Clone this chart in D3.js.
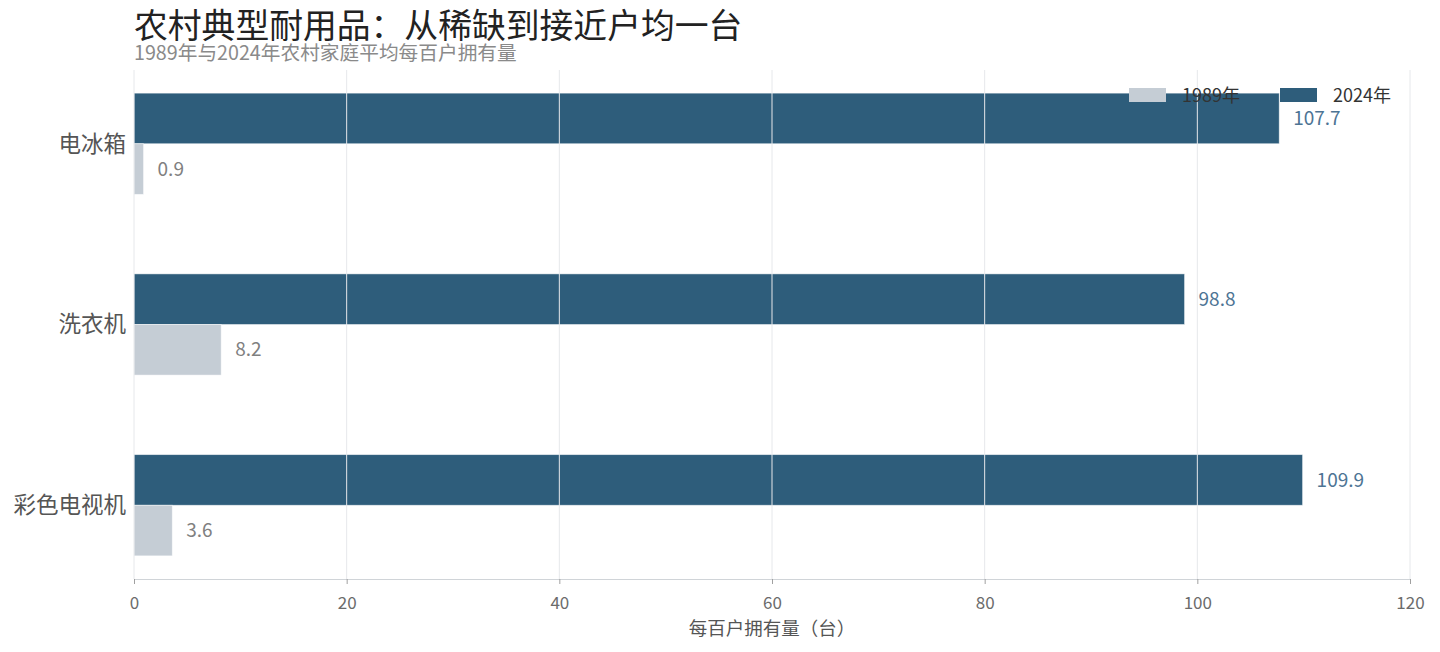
<!DOCTYPE html>
<html>
<head>
<meta charset="utf-8">
<script src="https://cdn.jsdelivr.net/npm/d3@7"></script>
<style>
  body { margin: 0; background: #fff; }
  text { font-family: "Noto Sans CJK SC", "Noto Sans", sans-serif; }
</style>
</head>
<body>
<div class="canvas"></div>
<script>
// data
const categories = ['彩色电视机', '洗衣机', '电冰箱'];
const values1989 = [3.6, 8.2, 0.9];
const values2024 = [109.9, 98.8, 107.7];
const seriesNames = ['1989年', '2024年'];
const xTicks = [0, 20, 40, 60, 80, 100, 120];

const colors = { '1989年': '#c5cdd5', '2024年': '#2e5d7b' };
const labelColors = { '1989年': '#808080', '2024年': '#4d7494' };

const width = 1440, height = 652;
const margin = { top: 70, right: 30, bottom: 73, left: 134 };

const svg = d3.select('.canvas')
    .append('svg')
    .attr('width', width)
    .attr('height', height);

const xScale = d3.scaleLinear()
    .domain([0, 120])
    .range([margin.left, width - margin.right]);

// category index -> vertical position (index 0 at the bottom)
const barH = 0.28;
const yScale = d3.scaleLinear()
    .domain([-0.408, 2.408])
    .range([height - margin.bottom, margin.top]);

const rows = categories.map((c, i) => ({ name: c, i, v1989: values1989[i], v2024: values2024[i] }));

// bars: 2024 above the category line, 1989 below
const bars = [];
rows.forEach(r => {
    bars.push({ series: '2024年', i: r.i, v: r.v2024, y0: r.i + barH, y1: r.i });
    bars.push({ series: '1989年', i: r.i, v: r.v1989, y0: r.i, y1: r.i - barH });
});

svg.append('g')
    .selectAll('rect')
    .data(bars)
    .enter()
    .append('rect')
    .attr('x', xScale(0))
    .attr('y', d => yScale(d.y0))
    .attr('width', d => xScale(d.v) - xScale(0))
    .attr('height', d => yScale(d.y1) - yScale(d.y0))
    .attr('fill', d => colors[d.series])
    .attr('stroke', '#ffffff')
    .attr('stroke-opacity', 0.6)
    .attr('stroke-width', 0.8);

// grid over the bars
svg.append('g')
    .selectAll('line')
    .data(xTicks)
    .enter()
    .append('line')
    .attr('x1', d => xScale(d))
    .attr('x2', d => xScale(d))
    .attr('y1', margin.top)
    .attr('y2', height - margin.bottom)
    .attr('stroke', '#e6e8eb')
    .attr('stroke-width', 1);

// x axis
const xAxis = d3.axisBottom(xScale)
    .tickValues(xTicks)
    .tickSize(5)
    .tickPadding(13);

const gx = svg.append('g')
    .attr('transform', `translate(0, ${height - margin.bottom})`)
    .call(xAxis);
gx.select('.domain').attr('stroke', '#d0d4d8');
gx.selectAll('.tick line').attr('stroke', '#a0a0a0');
gx.selectAll('.tick text')
    .attr('fill', '#6b6b6b')
    .style('font-size', '17px')
    .style('font-family', '"Noto Sans CJK SC", sans-serif');

svg.append('text')
    .attr('x', (xScale(0) + xScale(120)) / 2)
    .attr('y', 635)
    .attr('text-anchor', 'middle')
    .attr('fill', '#555')
    .style('font-size', '18.5px')
    .text('每百户拥有量（台）');

// category labels
svg.append('g')
    .selectAll('text')
    .data(rows)
    .enter()
    .append('text')
    .attr('x', margin.left - 8)
    .attr('y', d => yScale(d.i))
    .attr('dy', '0.35em')
    .attr('text-anchor', 'end')
    .attr('fill', '#555')
    .style('font-size', '22.5px')
    .text(d => d.name);

// value labels
svg.append('g')
    .selectAll('text')
    .data(bars)
    .enter()
    .append('text')
    .attr('x', d => xScale(d.v) + 14)
    .attr('y', d => (yScale(d.y0) + yScale(d.y1)) / 2)
    .attr('dy', '0.35em')
    .attr('fill', d => labelColors[d.series])
    .style('font-size', '19px')
    .text(d => d.v.toFixed(1));

// legend
const legend = svg.append('g');
const legendX = [1129, 1280];
seriesNames.forEach((s, k) => {
    legend.append('rect')
        .attr('x', legendX[k])
        .attr('y', 88)
        .attr('width', 37)
        .attr('height', 14)
        .attr('fill', colors[s]);
    legend.append('text')
        .attr('x', legendX[k] + 53)
        .attr('y', 96)
        .attr('dy', '0.35em')
        .attr('fill', '#333')
        .style('font-size', '18px')
        .text(s);
});

// titles
svg.append('text')
    .attr('x', margin.left)
    .attr('y', 38)
    .attr('fill', '#222')
    .style('font-size', '33.8px')
    .text('农村典型耐用品：从稀缺到接近户均一台');

svg.append('text')
    .attr('x', margin.left)
    .attr('y', 60)
    .attr('fill', '#8a8a8a')
    .style('font-size', '19.7px')
    .text('1989年与2024年农村家庭平均每百户拥有量');
</script>
</body>
</html>
